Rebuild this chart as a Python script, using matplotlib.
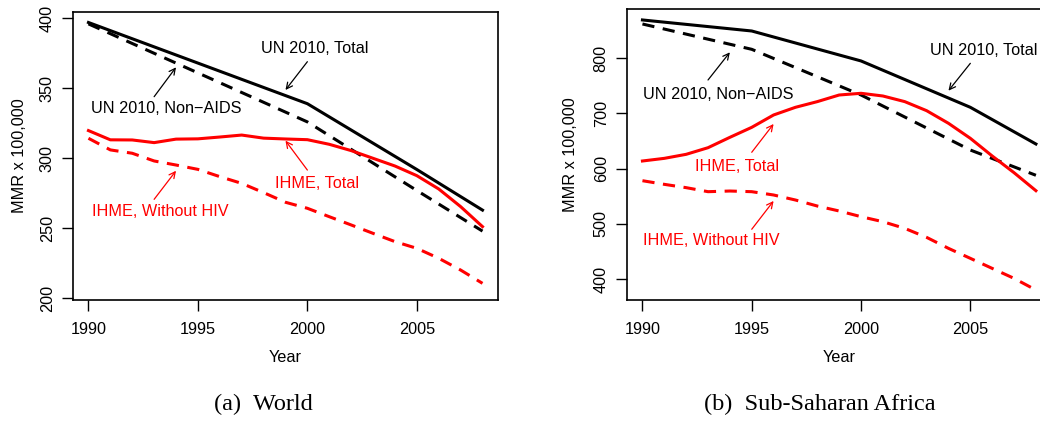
#!/usr/bin/env python3

import matplotlib
matplotlib.use("Agg")
import matplotlib.pyplot as plt

# Years
ihme_years = list(range(1990, 2009))
un_years = [1990, 1995, 2000, 2005, 2008]

# World
world_un_total = [397, 368, 339, 292, 263]
world_un_nonaids = [396, 361, 326, 277, 248]
world_ihme_total = [319.8, 313.2, 313.1, 311.2, 313.7, 313.9, 315.2, 316.6, 314.4, 313.8,
                    313.3, 310.0, 305.5, 300.0, 294.5, 287.6, 278.1, 265.5, 251.2]
world_ihme_nohiv = [314.3, 306.0, 303.6, 298.1, 295.2, 292.1, 286.9, 282.1, 275.5, 268.6,
                    264.3, 258.3, 252.4, 246.4, 240.5, 235.7, 228.6, 220.2, 210.7]

# Sub-Saharan Africa
ssa_un_total = [869.5, 849.5, 795.2, 711.2, 644.7]
ssa_un_nonaids = [862.2, 816.3, 733.5, 633.8, 588.0]
ssa_ihme_total = [613.9, 618.7, 626.0, 638.0, 656.8, 674.9, 697.3, 711.2, 721.5, 733.5,
                  736.6, 731.7, 721.5, 705.1, 682.2, 655.0, 623.0, 592.7, 560.1]
ssa_ihme_nohiv = [578.2, 571.6, 565.6, 558.3, 559.5, 558.3, 552.3, 543.2, 532.3, 523.3,
                  513.0, 503.9, 491.8, 475.5, 455.6, 437.5, 419.3, 401.2, 380.1]

FS = 11.7
plt.rcParams["font.family"] = ["Liberation Sans", "DejaVu Sans"]
plt.rcParams["font.size"] = FS

fig = plt.figure(figsize=(10.4, 4.21), dpi=100)
# right panel sticks out past the figure edge, as in the reference
ax1 = fig.add_axes([0.0699, 0.2874, 0.4092, 0.6848])
ax2 = fig.add_axes([0.6026, 0.2874, 0.4086, 0.6905])

LW = 2.2
DASH = (4, 2.8)


def panel(ax, un_total, un_nonaids, ihme_total, ihme_nohiv, ylim, yticks, ylab_x):
    """Draws one panel with the four series"""
    ax.plot(un_years, un_total, color="black", lw=LW)
    ax.plot(un_years, un_nonaids, color="black", lw=LW, dashes=DASH)
    ax.plot(ihme_years, ihme_total, color="red", lw=LW)
    ax.plot(ihme_years, ihme_nohiv, color="red", lw=LW, dashes=DASH)
    ax.set_xlim(1989.28, 2008.72)
    ax.set_ylim(*ylim)
    ax.set_xticks([1990, 1995, 2000, 2005])
    ax.set_yticks(yticks)
    for s in ax.spines.values():
        s.set_linewidth(1.2)
    ax.tick_params(direction="out", length=8, width=1.0)
    ax.tick_params(axis="x", pad=7.5)
    ax.tick_params(axis="y", pad=5, labelrotation=90)
    for lab in ax.get_yticklabels():
        lab.set_va("center")
    ax.set_xlabel("Year")
    ax.xaxis.label.set_va("center")
    ax.xaxis.set_label_coords(0.5, -0.198)
    ax.set_ylabel("MMR x 100,000")
    ax.yaxis.label.set_va("center")
    ax.yaxis.set_label_coords(ylab_x, 0.5)


def note(ax, text, pos, tail, head, color):
    """Writes a label and an arrow pointing at a line"""
    ax.text(pos[0], pos[1], text, color=color, ha="center", va="center")
    ax.annotate("", xy=head, xytext=tail,
                arrowprops=dict(arrowstyle="->", color=color, lw=0.9,
                                shrinkA=0, shrinkB=0, mutation_scale=11))


panel(ax1, world_un_total, world_un_nonaids, world_ihme_total, world_ihme_nohiv,
      (198.8, 404.7), [200, 250, 300, 350, 400], -0.126)
note(ax1, "UN 2010, Total", (2000.35, 378.5), (2000, 369), (1999, 348.8), "black")
note(ax1, "UN 2010, Non\u2212AIDS", (1993.55, 335.7), (1993, 344), (1994, 365), "black")
note(ax1, "IHME, Total", (2000.45, 282.1), (2000, 291.6), (1999, 312.6), "red")
note(ax1, "IHME, Without HIV", (1993.26, 261.9), (1993, 270.7), (1994, 291.1), "red")

panel(ax2, ssa_un_total, ssa_un_nonaids, ssa_ihme_total, ssa_ihme_nohiv,
      (362, 888.8), [400, 500, 600, 700, 800], -0.1334)
note(ax2, "UN 2010, Total", (2005.62, 813.8), (2005, 790.9), (2004, 741.3), "black")
note(ax2, "UN 2010, Non\u2212AIDS", (1993.45, 734.8), (1993, 760.7), (1994, 810.9), "black")
note(ax2, "IHME, Total", (1994.34, 603.6), (1995, 629.7), (1996, 681), "red")
note(ax2, "IHME, Without HIV", (1993.13, 469.6), (1995, 490.2), (1996, 541.5), "red")

# Captions
fig.text(263 / 1040, 1 - 404 / 421, "(a)  World", family="Liberation Serif",
         fontsize=17.5, ha="center", va="center")
fig.text(819.7 / 1040, 1 - 404 / 421, "(b)  Sub-Saharan Africa", family="Liberation Serif",
         fontsize=17.5, ha="center", va="center")

fig.savefig("out.png", dpi=100)
